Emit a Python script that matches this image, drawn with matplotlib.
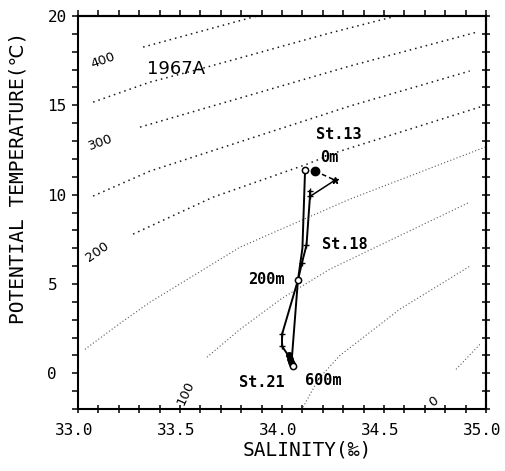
import matplotlib
matplotlib.use('Agg')
import matplotlib.pyplot as plt
from matplotlib.transforms import ScaledTranslation

# thermosteric anomaly isolines (salinity, temperature)
iso_400_s = [33.319, 33.877]
iso_400_t = [18.26, 20.0]
iso_350_s = [33.074, 33.353, 33.632, 34.235, 34.56]
iso_350_t = [15.18, 16.30, 17.14, 19.05, 20.0]
iso_300_s = [33.304, 34.333, 34.956]
iso_300_t = [13.78, 17.20, 19.10]
iso_250_s = [33.074, 33.353, 34.333, 34.92]
iso_250_t = [9.92, 11.32, 14.96, 16.92]
iso_200_s = [33.27, 33.662, 34.123, 34.27, 34.985]
iso_200_t = [7.79, 9.86, 11.71, 12.38, 14.96]
iso_150_s = [33.034, 33.20, 33.353, 33.794, 34.333, 34.995]
iso_150_t = [1.34, 2.75, 3.98, 7.06, 9.75, 12.66]
iso_100_s = [33.632, 33.794, 34.0, 34.235, 34.92]
iso_100_t = [0.90, 2.46, 4.2, 5.83, 9.58]
iso_50_s = [34.103, 34.18, 34.284, 34.578, 34.92]
iso_50_t = [-1.90, -0.3, 1.0, 3.59, 5.99]
iso_0_s = [34.853, 34.97]
iso_0_t = [0.22, 1.62]

iso_labels = ['400', '300', '200', '100', '0']
iso_label_s = [33.123, 33.113, 33.093, 33.53, 34.745]
iso_label_t = [17.53, 12.94, 6.78, -1.1, -1.57]
iso_label_rot = [20, 20, 35, 65, 35]

# station profiles
st_a_sal = [34.113, 34.100, 34.078, 34.049, 34.054]
st_a_tem = [11.37, 7.0, 5.21, 0.95, 0.39]
st13_dash_sal = [34.162, 34.26]
st13_dash_tem = [11.32, 10.81]
st13_sal = [34.26, 34.137]
st13_tem = [10.81, 9.9]
st18_sal = [34.137, 34.137, 34.12, 34.098, 34.078, 34.0, 34.0, 34.034, 34.049]
st18_tem = [10.2, 9.9, 7.17, 6.2, 5.21, 2.18, 1.51, 0.95, 0.6]
blob_sal = [34.034, 34.04, 34.045, 34.05]
blob_tem = [1.0, 0.8, 0.65, 0.5]

fig = plt.figure(figsize=(5.05, 4.71), dpi=100)
ax = fig.add_axes([0.1545, 0.1316, 0.8079, 0.8344])

upper = [(iso_400_s, iso_400_t), (iso_350_s, iso_350_t), (iso_300_s, iso_300_t),
         (iso_250_s, iso_250_t), (iso_200_s, iso_200_t)]
lower = [(iso_150_s, iso_150_t), (iso_100_s, iso_100_t), (iso_50_s, iso_50_t),
         (iso_0_s, iso_0_t)]
for s, t in upper:
    ax.plot(s, t, color='0.1', lw=1.1, ls=(0, (1, 2.6)))
for s, t in lower:
    ax.plot(s, t, color='0.35', lw=0.8, ls=(0, (1, 2.0)))

for lab, s, t, r in zip(iso_labels, iso_label_s, iso_label_t, iso_label_rot):
    ax.text(s, t, lab, rotation=r, ha='center', va='center', fontsize=9.5)

# profiles
ax.plot(st_a_sal, st_a_tem, color='k', lw=1.4)
ax.plot(st13_dash_sal, st13_dash_tem, color='k', lw=1.1, ls=(0, (3, 2)))
ax.plot(st13_sal, st13_tem, color='k', lw=1.1)
ax.plot(st18_sal, st18_tem, color='k', lw=1.4, marker='+', ms=4, mew=1.0)
ax.plot(blob_sal, blob_tem, 'o', color='k', ms=4)
ax.plot(st13_dash_sal[1], st13_dash_tem[1], marker='*', color='k', ms=5)
ax.plot(st13_dash_sal[0], st13_dash_tem[0], 'o', color='k', ms=6)
ax.plot([st_a_sal[0], st_a_sal[2], st_a_sal[-1]], [st_a_tem[0], st_a_tem[2], st_a_tem[-1]],
        'o', mfc='white', mec='k', ms=4.5, mew=1.1)

bold = dict(family='DejaVu Sans Mono', fontweight='bold', fontsize=11, ha='center', va='center')
ax.text(34.28, 13.38, 'St.13', **bold)
ax.text(34.23, 12.1, '0m', **bold)
ax.text(34.306, 7.23, 'St.18', **bold)
ax.text(33.924, 5.24, '200m', **bold)
ax.text(33.90, -0.5, 'St.21', **bold)
ax.text(34.20, -0.39, '600m', **bold)
ax.text(33.48, 17.03, '1967A', fontsize=13, ha='center', va='center')

ax.set_xlim(33.0, 35.0)
ax.set_ylim(-2, 20)
ax.set_xticks([33.0, 33.5, 34.0, 34.5, 35.0])
ax.set_xticks([33.0 + 0.1 * i for i in range(21)], minor=True)
ax.set_yticks([0, 5, 10, 15, 20])
ax.set_yticks(list(range(-2, 21)), minor=True)
ax.set_xticklabels(['33.0', '33.5', '34.0', '34.5', '35.0'], family='DejaVu Sans Mono', fontsize=11.5)
ax.set_yticklabels(['0', '5', '10', '15', '20'], family='DejaVu Sans Mono', fontsize=11.5,
                   ha='left')
ax.tick_params(axis='x', which='both', direction='inout', length=6, width=1.1, pad=7)
ax.tick_params(axis='y', which='both', direction='out', length=4, width=1.1, pad=18)
for lab in ax.get_xticklabels():
    lab.set_transform(lab.get_transform() + ScaledTranslation(-0.04, 0, fig.dpi_scale_trans))

top = ax.secondary_xaxis('top')
top.set_xticks([33.0 + 0.1 * i for i in range(21)])
top.set_xticklabels([])
top.tick_params(direction='out', length=4, width=1.1)
right = ax.secondary_yaxis('right')
right.set_yticks(list(range(-2, 21)))
right.set_yticklabels([])
right.tick_params(direction='inout', length=6, width=1.1)
for a in (ax, top, right):
    for sp in a.spines.values():
        sp.set_linewidth(1.5)

ax.set_xlabel('SALINITY(‰)', family=['DejaVu Sans Mono', 'DejaVu Sans'], fontsize=14)
ax.xaxis.set_label_coords(0.561, -0.08)
ax.set_ylabel('POTENTIAL TEMPERATURE(℃)', family=['DejaVu Sans Mono', 'DejaVu Sans'],
              fontsize=14)
ax.yaxis.set_label_coords(-0.123, 0.588)

fig.savefig('out.png', dpi=100)
